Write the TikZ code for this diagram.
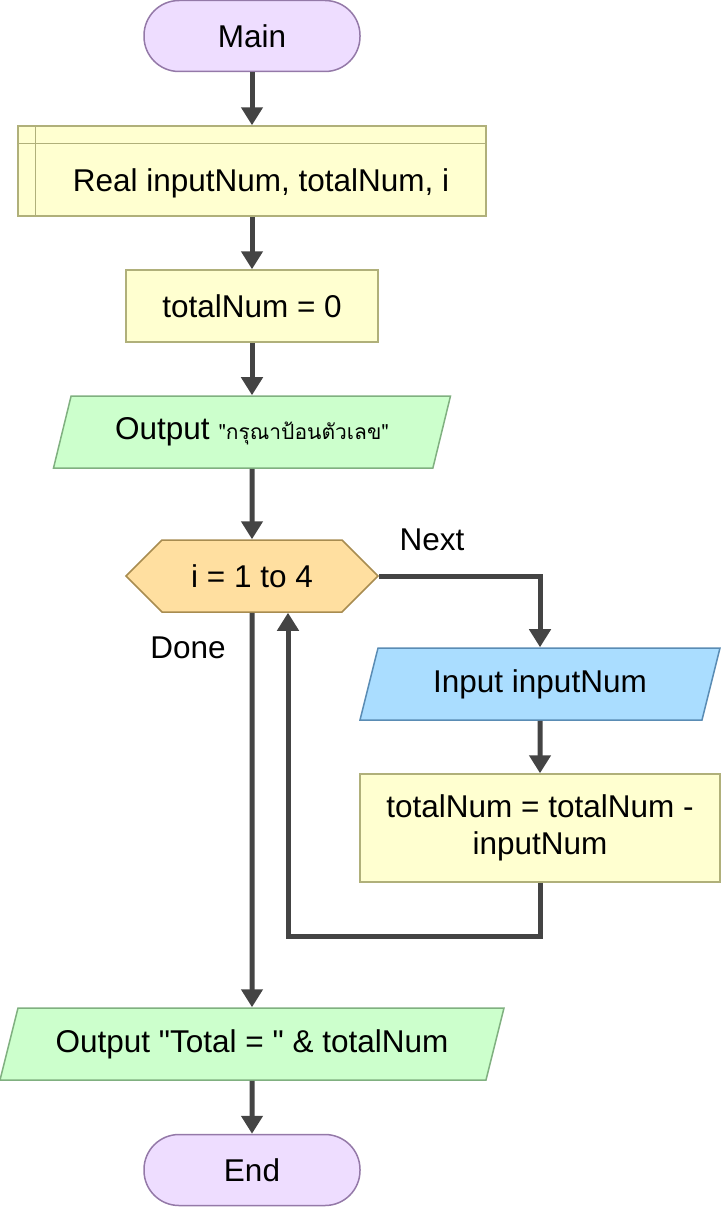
\documentclass[tikz,border=0pt]{standalone}
\usepackage{fontspec}
\setmainfont{Liberation Sans}
\newfontfamily\thaifont[Script=Thai]{Loma}
\usepackage{tikz}
\usetikzlibrary{arrows.meta,shapes.geometric,shapes.symbols}

\definecolor{linec}{HTML}{444444}
\definecolor{termfill}{HTML}{EEDDFF}
\definecolor{termline}{HTML}{9479A8}
\definecolor{procfill}{HTML}{FFFFD0}
\definecolor{procline}{HTML}{B0B07A}
\definecolor{outfill}{HTML}{CCFFCC}
\definecolor{outline}{HTML}{80B080}
\definecolor{infill}{HTML}{AADDFF}
\definecolor{inline}{HTML}{5A8CB4}
\definecolor{loopfill}{HTML}{FFDFA0}
\definecolor{loopline}{HTML}{A88C50}

\begin{document}
\begin{tikzpicture}[x=1pt,y=-1pt,
  every node/.style={font=\fontsize{31.5}{36.5}\selectfont, line width=1.5pt, align=center},
  term/.style={draw=termline, fill=termfill, rectangle, rounded corners=35pt,
               minimum width=216pt, minimum height=71pt},
  proc/.style={draw=procline, fill=procfill, rectangle, minimum height=72pt},
  iobox/.style={trapezium, trapezium left angle=63.43, trapezium right angle=116.57,
                trapezium stretches body, minimum height=72pt},
  loopbox/.style={draw=loopline, fill=loopfill, signal, signal to=west and east,
                  signal pointer angle=90, minimum width=252pt, minimum height=72pt},
  lbl/.style={font=\fontsize{31.5}{36.5}\selectfont}]
\useasboundingbox (0,0) rectangle (721,1207);

\node[term] (main) at (252,36) {Main};
\node[proc, minimum width=468pt, minimum height=90pt, text height=46pt, text depth=6pt]
  (decl) at (252,171) {\hspace*{18pt}Real inputNum, totalNum, i};
\draw[procline, line width=1.5pt] ([xshift=18pt]decl.north west) -- ([xshift=18pt]decl.south west);
\draw[procline, line width=1.5pt] ([yshift=-18pt]decl.north west) -- ([yshift=-18pt]decl.north east);
\node[proc, minimum width=252pt] (init) at (252,306) {totalNum = 0};
\node[iobox, draw=outline, fill=outfill, minimum width=397pt] (ask) at (252,432)
  {Output {\thaifont\fontsize{21}{24}\selectfont \textquotedbl กรุณาป้อนตัวเลข\textquotedbl}};
\node[loopbox] (loop) at (252,576) {i = 1 to 4};
\node[iobox, draw=inline, fill=infill, minimum width=360pt] (inp) at (540,684) {Input inputNum};
\node[proc, minimum width=360pt, minimum height=108pt] (calc) at (540,828)
  {totalNum = totalNum -\\inputNum};
\node[iobox, draw=outline, fill=outfill, minimum width=504pt] (outT) at (252,1044)
  {Output \textquotedbl Total = \textquotedbl{} \& totalNum};
\node[term] (stop) at (252,1170) {End};

\node[lbl] (next) at (432,540) {Next};
\node[lbl] (done) at (188,648) {Done};
\coordinate (back) at (288,936);

\begin{scope}[>={Triangle[length=18pt,width=21pt]},
              every edge/.style={draw=linec, line width=5pt}]
  \path [->] (main) edge (decl);
  \path [->] (decl) edge (init);
  \path [->] (init) edge (ask);
  \path [->] (ask) edge (loop);
  \path [->] (loop) edge (outT);
  \path [->] (inp) edge (calc);
  \path [->] (outT) edge (stop);
  \draw [->, linec, line width=5pt] (loop.east) -| (inp.north);
  \draw [->, linec, line width=5pt] (calc.south) |- (back) -- (back |- loop.south);
\end{scope}
\end{tikzpicture}
\end{document}
